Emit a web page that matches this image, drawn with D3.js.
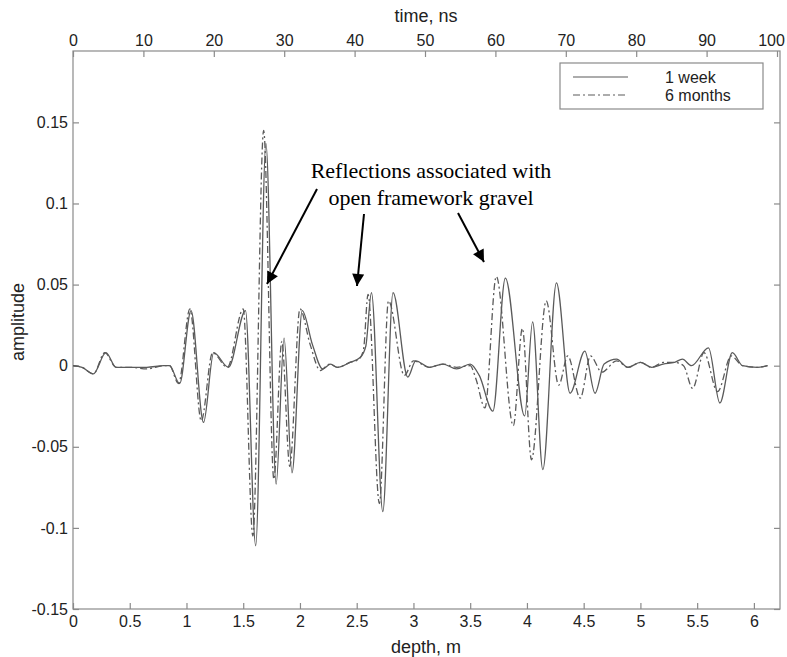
<!DOCTYPE html>
<html>
<head>
<meta charset="utf-8">
<script src="https://cdn.jsdelivr.net/npm/d3@7"></script>
<style>
  body { margin: 0; background: #fff; }
  svg { display: block; font-family: "Liberation Sans", Arial, sans-serif; }
</style>
</head>
<body>
<svg id="chart" width="787" height="657"></svg>
<script>
// tick values
const depthTicks = [0, 0.5, 1, 1.5, 2, 2.5, 3, 3.5, 4, 4.5, 5, 5.5, 6];
const timeTicks = [0, 10, 20, 30, 40, 50, 60, 70, 80, 90, 100];
const ampTicks = [-0.15, -0.1, -0.05, 0, 0.05, 0.1, 0.15];

// 1 week trace (solid)
const weekDepth = [0, 0.08, 0.18, 0.29, 0.38, 0.5, 0.65, 0.8, 0.85, 0.94, 1.04, 1.15, 1.24, 1.37, 1.52,
  1.61, 1.7, 1.79, 1.86, 1.93, 2.02, 2.11, 2.2, 2.27, 2.33, 2.44, 2.53, 2.58, 2.63, 2.73, 2.82,
  2.95, 3.02, 3.14, 3.26, 3.38, 3.5, 3.58, 3.7, 3.81, 3.98, 4.05, 4.14, 4.26, 4.38, 4.51, 4.6,
  4.68, 4.79, 4.89, 5.0, 5.1, 5.2, 5.3, 5.37, 5.45, 5.6, 5.7, 5.81, 5.9, 6.03, 6.12];
const weekAmp = [0, -0.001, -0.005, 0.008, -0.001, -0.001, -0.001, 0, 0, -0.011, 0.034, -0.035, 0.008, -0.001, 0.034,
  -0.111, 0.137, -0.073, 0.017, -0.066, 0.034, 0.013, -0.002, 0.001, -0.001, 0.002, 0.005, 0.012, 0.045, -0.09, 0.045,
  -0.007, 0.003, -0.001, 0.001, -0.002, 0.001, -0.006, -0.028, 0.054, -0.031, 0.027, -0.064, 0.051, -0.017, 0.009, -0.017,
  0.001, 0.004, -0.001, 0.002, -0.001, 0.001, 0.002, 0.004, 0, 0.011, -0.023, 0.008, 0, -0.001, 0];

// 6 months trace (dash-dot)
const monthsDepth = [0, 0.08, 0.18, 0.28, 0.38, 0.5, 0.65, 0.8, 0.85, 0.93, 1.03, 1.13, 1.23, 1.36, 1.5,
  1.585, 1.68, 1.77, 1.84, 1.91, 2.0, 2.09, 2.18, 2.26, 2.33, 2.44, 2.52, 2.56, 2.6, 2.7, 2.78,
  2.92, 3.0, 3.14, 3.26, 3.38, 3.5, 3.55, 3.63, 3.73, 3.88, 3.96, 4.04, 4.17, 4.28, 4.36, 4.47,
  4.56, 4.66, 4.79, 4.89, 5.0, 5.1, 5.2, 5.3, 5.38, 5.46, 5.56, 5.68, 5.8, 5.9, 6.03, 6.12];
const monthsAmp = [0, -0.001, -0.005, 0.008, -0.001, -0.001, -0.002, 0, 0, -0.011, 0.035, -0.034, 0.008, -0.001, 0.035,
  -0.105, 0.145, -0.07, 0.015, -0.062, 0.035, 0.013, -0.003, 0.001, -0.001, 0.002, 0.004, 0.01, 0.044, -0.085, 0.04,
  -0.006, 0.003, -0.001, 0.001, -0.001, 0, -0.008, -0.026, 0.055, -0.037, 0.023, -0.058, 0.04, -0.012, 0.006, -0.02,
  0.006, -0.004, 0.003, -0.001, 0.002, -0.001, 0.002, 0.002, 0, -0.014, 0.008, -0.016, 0.006, 0, -0.001, 0];

const legendLabels = ['1 week', '6 months'];

const axisColor = '#8a8a8a';
const traceColor = '#5a5a5a';
const svg = d3.select('#chart');

const x = d3.scaleLinear().domain([0, 6.23]).range([73, 780]);
const xTime = d3.scaleLinear().domain([0, 100]).range([73, 777]);
const y = d3.scaleLinear().domain([-0.15, 0.194]).range([609, 51]);

const fmt = d => String(d).replace('\u2212', '-');

function styleAxis(g) {
    g.select('.domain').remove();
    g.selectAll('.tick line').attr('stroke', axisColor).attr('stroke-width', 1.2);
    g.selectAll('.tick text')
        .attr('fill', '#222')
        .style('font-size', '16px')
        .style('font-family', '"Liberation Sans", Arial, sans-serif');
}

svg.append('g')
    .attr('transform', 'translate(0,609)')
    .call(d3.axisBottom(x).tickValues(depthTicks).tickSize(-6).tickPadding(7).tickFormat(fmt))
    .call(styleAxis);

const topAxis = svg.append('g')
    .attr('transform', 'translate(0,51)')
    .call(d3.axisTop(xTime).tickValues(timeTicks).tickSize(-6).tickPadding(5).tickFormat(fmt))
    .call(styleAxis);
// last label sits against the right edge, as in the original figure
topAxis.selectAll('.tick text').filter(d => d === 100).attr('x', -6);

svg.append('g')
    .attr('transform', 'translate(73,0)')
    .call(d3.axisLeft(y).tickValues(ampTicks).tickSize(-6).tickPadding(5).tickFormat(fmt))
    .call(styleAxis);

svg.append('g')
    .attr('transform', 'translate(780,0)')
    .call(d3.axisRight(y).tickValues(ampTicks).tickSize(-6).tickFormat(''))
    .call(styleAxis);

// plot box
svg.append('rect')
    .attr('x', 73).attr('y', 51)
    .attr('width', 707).attr('height', 558)
    .attr('fill', 'none')
    .attr('stroke', axisColor)
    .attr('stroke-width', 1.2);

// traces
const line = d3.line()
    .x(d => x(d[0]))
    .y(d => y(d[1]))
    .curve(d3.curveMonotoneX);

svg.append('path')
    .datum(d3.zip(monthsDepth, monthsAmp))
    .attr('d', line)
    .attr('fill', 'none')
    .attr('stroke', traceColor)
    .attr('stroke-width', 1.3)
    .attr('stroke-dasharray', '7,3,2,3');

svg.append('path')
    .datum(d3.zip(weekDepth, weekAmp))
    .attr('d', line)
    .attr('fill', 'none')
    .attr('stroke', traceColor)
    .attr('stroke-width', 1.3);

// axis labels
svg.append('text')
    .attr('x', 426).attr('y', 16)
    .attr('text-anchor', 'middle')
    .attr('dy', '0.35em')
    .style('font-size', '18px')
    .attr('fill', '#222')
    .text('time, ns');

svg.append('text')
    .attr('x', 426).attr('y', 647)
    .attr('text-anchor', 'middle')
    .attr('dy', '0.35em')
    .style('font-size', '18px')
    .attr('fill', '#222')
    .text('depth, m');

svg.append('text')
    .attr('transform', 'translate(18,322) rotate(-90)')
    .attr('text-anchor', 'middle')
    .attr('dy', '0.35em')
    .style('font-size', '18px')
    .attr('fill', '#222')
    .text('amplitude');

// legend
const legend = svg.append('g').attr('class', 'legend');
legend.append('rect')
    .attr('x', 560).attr('y', 63)
    .attr('width', 203).attr('height', 46)
    .attr('fill', '#fff')
    .attr('stroke', axisColor)
    .attr('stroke-width', 1.2);

const legendItems = legend.selectAll('.legend-item')
    .data(legendLabels)
    .enter()
    .append('g')
    .attr('class', 'legend-item')
    .attr('transform', (d, i) => `translate(0, ${77 + i * 18})`);

legendItems.append('line')
    .attr('x1', 573).attr('x2', 628)
    .attr('stroke', traceColor)
    .attr('stroke-width', 1.2)
    .attr('stroke-dasharray', (d, i) => i ? '7,3,2,3' : null);

legendItems.append('text')
    .attr('x', 665)
    .attr('dy', '0.35em')
    .style('font-size', '16px')
    .attr('fill', '#222')
    .text(d => d);

// annotation
const note = svg.append('g')
    .style('font-family', '"Liberation Serif", "Times New Roman", serif')
    .style('font-size', '22px')
    .attr('fill', '#000');
note.append('text').attr('x', 431).attr('y', 178).attr('text-anchor', 'middle').text('Reflections associated with');
note.append('text').attr('x', 431).attr('y', 205).attr('text-anchor', 'middle').text('open framework gravel');

svg.append('defs').append('marker')
    .attr('id', 'head')
    .attr('viewBox', '0 0 10 10')
    .attr('refX', 10).attr('refY', 5)
    .attr('markerUnits', 'userSpaceOnUse')
    .attr('markerWidth', 15).attr('markerHeight', 12)
    .attr('orient', 'auto')
    .append('path')
    .attr('d', 'M0,0L10,5L0,10Z')
    .attr('fill', '#000');

const arrows = [
    [317, 189, 267, 284],
    [364, 214, 357, 286],
    [458, 213, 484, 262]
];
svg.selectAll('.arrow')
    .data(arrows)
    .enter()
    .append('line')
    .attr('class', 'arrow')
    .attr('x1', d => d[0]).attr('y1', d => d[1])
    .attr('x2', d => d[2]).attr('y2', d => d[3])
    .attr('stroke', '#000')
    .attr('stroke-width', 2)
    .attr('marker-end', 'url(#head)');
</script>
</body>
</html>
